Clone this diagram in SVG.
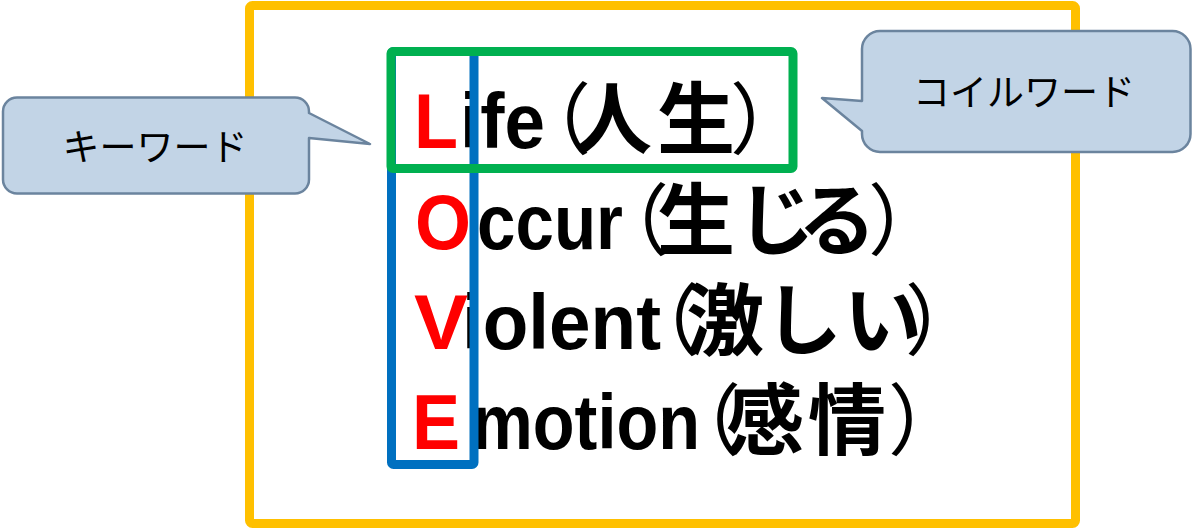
<svg xmlns="http://www.w3.org/2000/svg" width="1193" height="528" viewBox="0 0 1193 528">
<style>
.box{fill:none;stroke-width:9;stroke-linejoin:round}
.callout{fill:#C2D4E6;stroke:#6B849E;stroke-width:2.5;stroke-linejoin:round}
.ctext{font-family:"Noto Sans CJK JP",sans-serif;font-size:37px;fill:#000;text-anchor:middle}
.lat{font-family:"Liberation Sans",Arial,sans-serif;font-size:78px;font-weight:bold;fill:#000}
.cap{fill:#FF0000}
.cjk{font-family:"Noto Sans CJK JP",sans-serif;font-size:78px;font-weight:bold;fill:#000}
.par{font-weight:normal}
</style>
<rect width="1193" height="528" fill="#FFFFFF"/>
<g id="frame">
<rect class="box" x="249.5" y="5.5" width="826" height="518" rx="3" stroke="#FFC000"/>
</g>
<g id="callout-keyword">
<path class="callout" d="M17,97.5 H295 A14,14 0 0 1 309,111.5 V113 L370,144 L309,138 V179.5 A14,14 0 0 1 295,193.5 H17 A14,14 0 0 1 3,179.5 V111.5 A14,14 0 0 1 17,97.5 Z"/>
<text class="ctext" x="155" y="161">キーワード</text>
</g>
<g id="callout-coilword">
<path class="callout" d="M880,31 H1172.5 A18,18 0 0 1 1190.5,49 V134 A18,18 0 0 1 1172.5,152 H880 A18,18 0 0 1 862,134 V131 L822,98 L862,101 V49 A18,18 0 0 1 880,31 Z"/>
<text class="ctext" x="1024" y="106">コイルワード</text>
</g>
<g id="line-life">
<text class="lat cap" x="414" y="148" textLength="44" lengthAdjust="spacingAndGlyphs">L</text>
<text class="lat" x="460" y="148" textLength="85" lengthAdjust="spacingAndGlyphs">ife</text>
<text class="cjk" y="148"><tspan class="par" x="513">（</tspan><tspan x="574">人</tspan><tspan x="657">生</tspan><tspan class="par" x="730">）</tspan></text>
</g>
<g id="line-occur">
<text class="lat cap" x="415" y="248.5" textLength="56" lengthAdjust="spacingAndGlyphs">O</text>
<text class="lat" x="477" y="248.5" textLength="146" lengthAdjust="spacingAndGlyphs">ccur</text>
<text class="cjk" y="248.5"><tspan class="par" x="591">（</tspan><tspan x="657">生</tspan><tspan x="737">じ</tspan><tspan x="798">る</tspan><tspan class="par" x="868">）</tspan></text>
</g>
<g id="line-violent">
<text class="lat cap" x="414" y="349" textLength="54" lengthAdjust="spacingAndGlyphs">V</text>
<text class="lat" x="462" y="349" textLength="199" lengthAdjust="spacingAndGlyphs">iolent</text>
<text class="cjk" y="349"><tspan class="par" x="622">（</tspan><tspan x="686">激</tspan><tspan x="764">し</tspan><tspan x="844">い</tspan><tspan class="par" x="905">）</tspan></text>
</g>
<g id="line-emotion">
<text class="lat cap" x="412" y="449" textLength="48" lengthAdjust="spacingAndGlyphs">E</text>
<text class="lat" x="472" y="449" textLength="228" lengthAdjust="spacingAndGlyphs">motion</text>
<text class="cjk" y="449"><tspan class="par" x="663">（</tspan><tspan x="726">感</tspan><tspan x="808">情</tspan><tspan class="par" x="888">）</tspan></text>
</g>
<g id="initials-box">
<rect class="box" x="391.5" y="51.5" width="82.5" height="413" rx="2" stroke="#0070C0"/>
</g>
<g id="coil-box">
<rect class="box" x="391" y="51.5" width="402" height="117" rx="2" stroke="#00B050"/>
</g>
<g id="connectors"/>
</svg>
